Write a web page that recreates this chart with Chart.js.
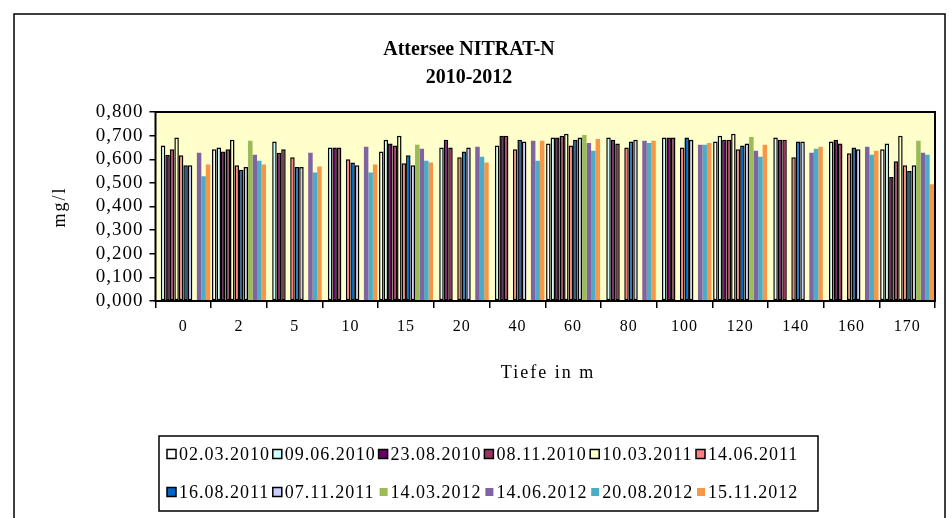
<!DOCTYPE html>
<html>
<head>
<meta charset="utf-8">
<script src="https://cdn.jsdelivr.net/npm/chart.js@4.4.1/dist/chart.umd.min.js"></script>
<style>
  html, body { margin: 0; padding: 0; background: #fff; }
  #wrap { width: 952px; height: 518px; }
</style>
</head>
<body>
<div id="wrap"><canvas id="chart" width="952" height="518"></canvas></div>
<script>
// depths (categories) and one array per sampling date, mg/l
var depths = ['0', '2', '5', '10', '15', '20', '40', '60', '80', '100', '120', '140', '160', '170'];
var dates = ['02.03.2010', '09.06.2010', '23.08.2010', '08.11.2010', '10.03.2011', '14.06.2011',
             '16.08.2011', '07.11.2011', '14.03.2012', '14.06.2012', '20.08.2012', '15.11.2012'];

var d02032010 = [null, 0.642, null, null, 0.633, null, null, 0.667, null, null, 0.675, null, null, 0.642];
var d09062010 = [0.658, 0.650, 0.675, 0.650, 0.683, 0.650, 0.658, 0.692, 0.692, 0.692, 0.700, 0.692, 0.675, 0.667];
var d23082010 = [0.618, 0.633, 0.628, 0.650, 0.667, 0.683, 0.700, 0.692, 0.683, 0.692, 0.683, 0.683, 0.683, 0.525];
var d08112010 = [0.642, 0.642, 0.642, 0.650, 0.658, 0.650, 0.700, 0.700, 0.667, 0.692, 0.683, 0.683, 0.667, 0.592];
var d10032011 = [0.692, 0.683, null, null, 0.700, null, null, 0.708, null, null, 0.708, null, null, 0.700];
var d14062011 = [0.617, 0.575, 0.608, 0.600, 0.583, 0.608, 0.642, 0.658, 0.650, 0.650, 0.642, 0.608, 0.625, 0.575];
var d16082011 = [0.575, 0.556, 0.567, 0.586, 0.617, 0.633, 0.683, 0.683, 0.675, 0.692, 0.658, 0.675, 0.650, 0.550];
var d07112011 = [0.575, 0.567, 0.567, 0.575, 0.575, 0.650, 0.675, 0.692, 0.683, 0.683, 0.667, 0.675, 0.642, 0.575];
var d14032012 = [null, 0.678, null, null, 0.661, null, null, 0.703, null, null, 0.694, null, null, 0.678];
var d14062012 = [0.628, 0.619, 0.628, 0.653, 0.644, 0.653, 0.678, 0.669, 0.678, 0.661, 0.636, 0.628, 0.653, 0.628];
var d20082012 = [0.528, 0.594, 0.544, 0.544, 0.594, 0.611, 0.594, 0.636, 0.669, 0.661, 0.611, 0.644, 0.619, 0.619];
var d15112012 = [0.578, 0.578, 0.569, 0.578, 0.586, 0.586, 0.678, 0.686, 0.678, 0.669, 0.661, 0.653, 0.636, 0.494];

var yTicks = [0, 0.1, 0.2, 0.3, 0.4, 0.5, 0.6, 0.7, 0.8];

var seriesValues = [d02032010, d09062010, d23082010, d08112010, d10032011, d14062011,
                    d16082011, d07112011, d14032012, d14062012, d20082012, d15112012];
var fills = ['#FFFFFF', '#CCFFFF', '#660066', '#993366', '#FFFFCC', '#FF8080',
             '#0066CC', '#CCCCFF', '#9BBB59', '#8064A2', '#4BACC6', '#F79646'];
// the first eight series have a black outline, the 2012 ones don't
var outlined = [true, true, true, true, true, true, true, true, false, false, false, false];

var serif = '"Liberation Serif", "Times New Roman", serif';
var plotBg = '#FFFFCC';

Chart.defaults.font.family = serif;
Chart.defaults.color = '#000';

var datasets = seriesValues.map(function (vals, i) {
  return {
    label: dates[i],
    data: vals,
    backgroundColor: fills[i],
    borderColor: '#000',
    borderWidth: outlined[i] ? 1.5 : 0,
    borderSkipped: false,
    categoryPercentage: 0.97,
    barPercentage: 1
  };
});

/// PLUGINS ///

var frame = {
  id: 'frame',
  beforeDraw: function (chart) {
    var ctx = chart.ctx,
        a = chart.chartArea;
    ctx.save();
    ctx.fillStyle = '#fff';
    ctx.fillRect(0, 0, chart.width, chart.height);
    ctx.fillStyle = plotBg;
    ctx.fillRect(a.left, a.top, a.right - a.left, a.bottom - a.top);
    ctx.restore();
    // Excel text here is widely spaced
    ctx.letterSpacing = '1px';
  },
  afterDatasetsDraw: function (chart) {
    var ctx = chart.ctx,
        a = chart.chartArea;
    ctx.save();
    ctx.strokeStyle = '#000';
    ctx.lineWidth = 2;
    ctx.strokeRect(a.left, a.top, a.right - a.left, a.bottom - a.top);
    ctx.restore();
  },
  afterDraw: function (chart) {
    var ctx = chart.ctx;
    ctx.save();
    ctx.letterSpacing = '0px';
    // outer chart frame
    ctx.strokeStyle = '#000';
    ctx.lineWidth = 1.5;
    ctx.strokeRect(14, 14, 931, 520);

    // title
    ctx.fillStyle = '#000';
    ctx.textAlign = 'center';
    ctx.textBaseline = 'middle';
    ctx.font = 'bold 20px ' + serif;
    ctx.fillText('Attersee NITRAT-N', 469, 50);
    ctx.fillText('2010-2012', 469, 78);

    // axis titles
    ctx.font = '18px ' + serif;
    ctx.letterSpacing = '2px';
    ctx.fillText('Tiefe in m', 548, 373);
    ctx.save();
    ctx.translate(60, 207);
    ctx.rotate(-Math.PI / 2);
    ctx.fillText('mg/l', 0, 0);
    ctx.restore();

    // legend box
    ctx.letterSpacing = '1px';
    ctx.lineWidth = 1.5;
    ctx.strokeRect(159, 436, 659, 75);
    ctx.textAlign = 'left';
    ctx.font = '18px ' + serif;
    chart.data.datasets.forEach(function (ds, i) {
      var row = Math.floor(i / 6),
          col = i % 6,
          x = 167 + col * 105.8,
          y = row === 0 ? 454 : 492;
      if (outlined[i]) {
        ctx.fillStyle = ds.backgroundColor;
        ctx.fillRect(x, y - 4.5, 9, 9);
        ctx.lineWidth = 1.5;
        ctx.strokeStyle = '#000';
        ctx.strokeRect(x, y - 4.5, 9, 9);
      } else {
        ctx.fillStyle = ds.backgroundColor;
        ctx.fillRect(x + 1, y - 4, 8, 8);
      }
      ctx.fillStyle = '#000';
      ctx.fillText(ds.label, x + 12, y + 1);
    });
    ctx.restore();
  }
};

new Chart(document.getElementById('chart'), {
  type: 'bar',
  data: {
    labels: depths,
    datasets: datasets
  },
  options: {
    responsive: false,
    animation: false,
    devicePixelRatio: 1,
    layout: {
      padding: { left: 15, right: 17, top: 112, bottom: 0 }
    },
    plugins: {
      legend: { display: false },
      title: { display: false },
      tooltip: { enabled: false }
    },
    scales: {
      x: {
        afterFit: function (s) { s.height = 217; },
        grid: {
          offset: true,
          drawOnChartArea: false,
          drawTicks: true,
          tickLength: 7,
          color: '#000',
          lineWidth: 1.5
        },
        border: { display: false },
        ticks: {
          color: '#000',
          padding: 9,
          maxRotation: 0,
          font: { size: 16 }
        }
      },
      y: {
        min: 0,
        max: 0.8,
        afterFit: function (s) { s.width = 140.5; },
        afterBuildTicks: function (s) {
          s.ticks = yTicks.map(function (v) { return { value: v }; });
        },
        grid: {
          drawOnChartArea: false,
          drawTicks: true,
          tickLength: 6,
          color: '#000',
          lineWidth: 1.5
        },
        border: { display: false },
        ticks: {
          color: '#000',
          padding: 6,
          autoSkip: false,
          font: { size: 19 },
          callback: function (v) {
            return Number(v).toFixed(3).replace('.', ',');
          }
        }
      }
    }
  },
  plugins: [frame]
});
</script>
</body>
</html>
